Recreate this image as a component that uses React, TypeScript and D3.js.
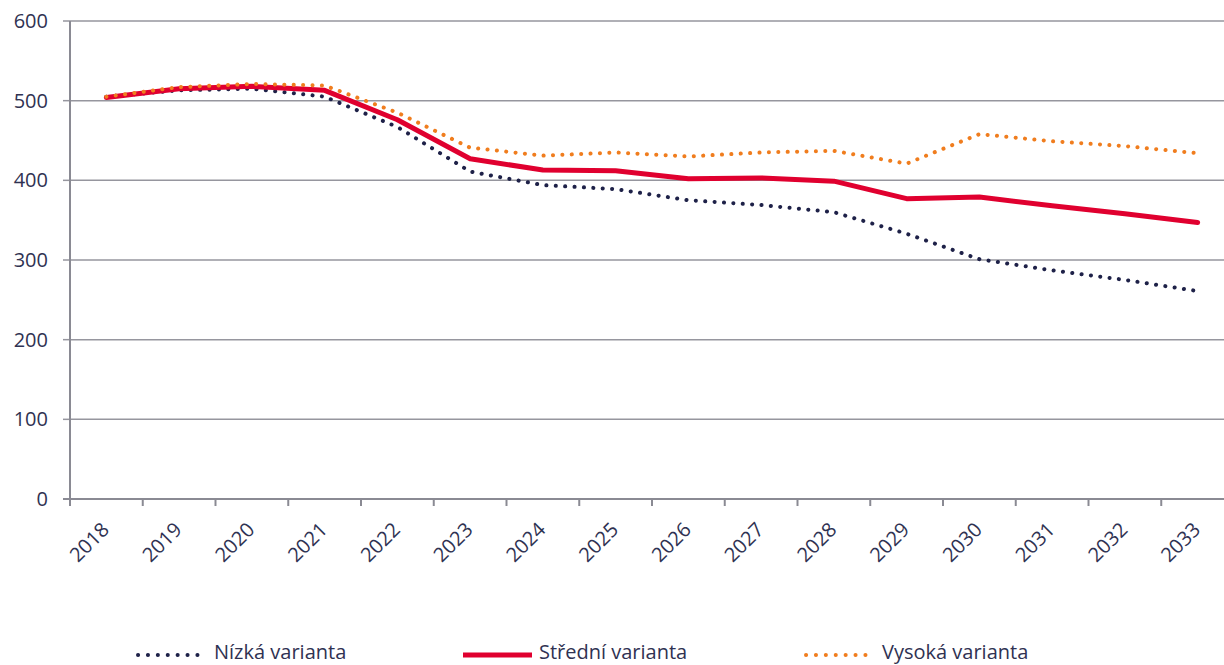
import React from "react";
import * as d3 from "d3";

const years = ["2018","2019","2020","2021","2022","2023","2024","2025","2026","2027","2028","2029","2030","2031","2032","2033"];
const nizka = [505, 513, 515, 505, 467, 411, 394, 389, 375, 369, 360, 333, 301, 287, 275, 261];
const stredni = [504, 515, 518, 513, 476, 427, 413, 412, 402, 403, 399, 377, 379, 368, 358, 347];
const vysoka = [505, 517, 521, 519, 485, 441, 431, 435, 430, 435, 437, 421, 458, 449, 443, 434];
const yTicks = [0, 100, 200, 300, 400, 500, 600];
const seriesNames = ["Nízká varianta", "Střední varianta", "Vysoká varianta"];

const W = 1224, H = 665;
const FONT = "'Open Sans', 'Noto Sans', sans-serif";
const TEXT = "#2f3252";
const GRID = "#96969e";

export default function App() {
  const x = d3.scaleBand<string>().domain(years).range([70, 1234]).paddingInner(0).paddingOuter(0);
  const y = d3.scaleLinear().domain([0, 600]).range([499, 21]);
  const cx = (yr: string) => (x(yr) as number) + x.bandwidth() / 2;
  const line = d3.line<number>().x((_, i) => cx(years[i])).y((v) => y(v));

  const series = [
    { name: seriesNames[0], data: nizka, color: "#1e2148", dotted: true, width: 4 },
    { name: seriesNames[1], data: stredni, color: "#e0002f", dotted: false, width: 5 },
    { name: seriesNames[2], data: vysoka, color: "#f07d1e", dotted: true, width: 4 },
  ];
  const legendX = [138, 463, 806];
  const legendLen = [62, 69, 62];

  return (
    <svg width={W} height={H} style={{ position: "absolute", left: 0, top: 0, display: "block" }} fontFamily={FONT}>
      <rect x={0} y={0} width={W} height={H} fill="#ffffff" />
      {yTicks.map((t) => (
        <g key={t}>
          {t !== 0 && <line x1={70} x2={1234} y1={y(t)} y2={y(t)} stroke={GRID} strokeWidth={1.5} />}
          <line x1={63} x2={70} y1={y(t)} y2={y(t)} stroke={GRID} strokeWidth={1.5} />
          <text x={48} y={y(t) + 7} textAnchor="end" fontSize={20} fill={TEXT}>{t}</text>
        </g>
      ))}
      <line x1={70} x2={70} y1={21} y2={506} stroke="#8a8a93" strokeWidth={2} />
      <line x1={63} x2={1234} y1={y(0)} y2={y(0)} stroke="#8a8a93" strokeWidth={2} />
      {years.map((yr) => (
        <line key={"t" + yr} x1={x(yr) as number} x2={x(yr) as number} y1={499} y2={506} stroke="#8a8a93" strokeWidth={2} />
      ))}
      {years.map((yr) => {
        const px = cx(yr) + 4, py = 531;
        return (
          <text key={"l" + yr} x={px} y={py} textAnchor="end" fontSize={20} fill={TEXT}
            transform={`rotate(-45 ${px} ${py})`}>{yr}</text>
        );
      })}
      {series.map((s) => (
        <path key={s.name} d={line(s.data) || ""} fill="none" stroke={s.color} strokeWidth={s.width}
          strokeLinecap="round" strokeLinejoin="round"
          strokeDasharray={s.dotted ? "0.1 9.3" : undefined} />
      ))}
      {series.map((s, i) => (
        <g key={"lg" + s.name}>
          <line x1={legendX[i]} x2={legendX[i] + legendLen[i]} y1={655} y2={655} stroke={s.color}
            strokeWidth={s.width} strokeLinecap={s.dotted ? "round" : "butt"}
            strokeDasharray={s.dotted ? "0.1 9.8" : undefined} />
          <text x={legendX[i] + legendLen[i] + (s.dotted ? 14 : 7)} y={659} fontSize={20} fill={TEXT}>{s.name}</text>
        </g>
      ))}
    </svg>
  );
}
